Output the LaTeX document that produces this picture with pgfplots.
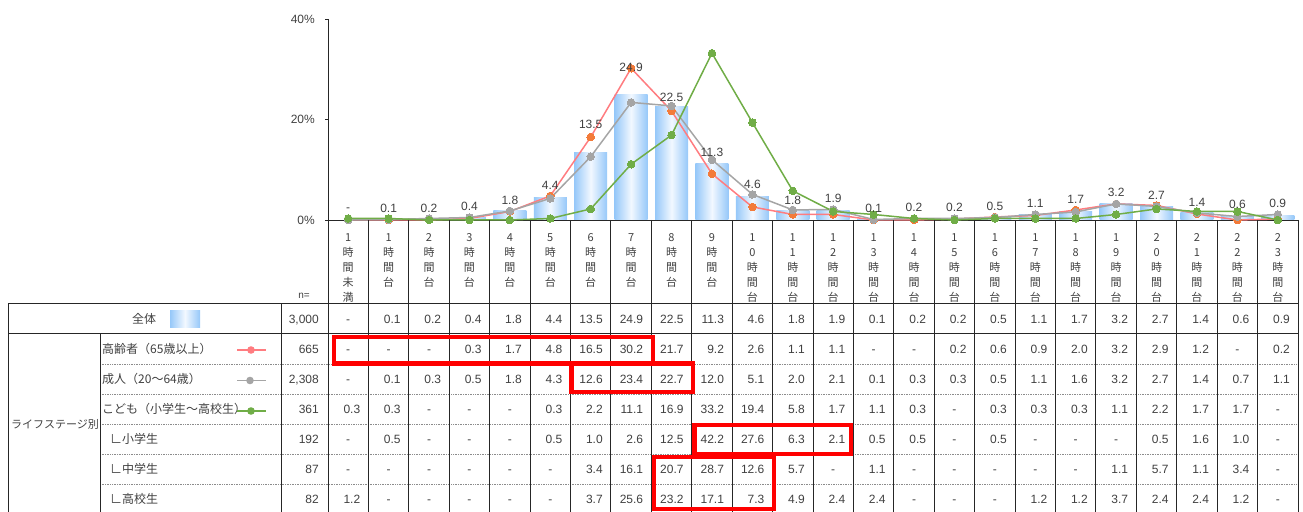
\documentclass[border=0pt]{standalone}
\usepackage{pgfplots}
\usepackage{pgfplotstable}
\pgfplotsset{compat=1.18}
\usepackage{fontspec}
\usepackage{ifthen}
\setmainfont{Liberation Sans}
\newfontfamily\jp{Noto Sans CJK JP}
\definecolor{txt}{HTML}{404040}
\definecolor{barE}{HTML}{96C8F9}
\definecolor{barM}{HTML}{F2F8FF}
\definecolor{oldL}{HTML}{FF7C80}
\definecolor{oldM}{HTML}{F37B3A}
\definecolor{adu}{HTML}{A5A5A5}
\definecolor{kid}{HTML}{70AD47}
\definecolor{gridc}{HTML}{262626}
\definecolor{dotc}{HTML}{8C8C8C}

\pgfplotstableread{
x all old adult kid laby lab
0  0    0    0    0.3  2.1  -
1  0.1  0    0.1  0.3  2.4  0.1
2  0.2  0    0.3  0    2.4  0.2
3  0.4  0.3  0.5  0    2.65 0.4
4  1.8  1.7  1.8  0    4.0  1.8
5  4.4  4.8  4.3  0.3  6.8  4.4
6  13.5 16.5 12.6 2.2  19.1 13.5
7  24.9 30.2 23.4 11.1 30.3 24.9
8  22.5 21.7 22.7 16.9 24.5 22.5
9  11.3 9.2  12.0 33.2 13.5 11.3
10 4.6  2.6  5.1  19.4 7.0  4.6
11 1.8  1.1  2.0  5.8  4.0  1.8
12 1.9  1.1  2.1  1.7  4.4  1.9
13 0.1  0    0.1  1.1  2.4  0.1
14 0.2  0    0.3  0.3  2.45 0.2
15 0.2  0.2  0.3  0    2.45 0.2
16 0.5  0.6  0.5  0.3  2.8  0.5
17 1.1  0.9  1.1  0.3  3.4  1.1
18 1.7  2.0  1.6  0.3  4.2  1.7
19 3.2  3.2  3.2  1.1  5.4  3.2
20 2.7  2.9  2.7  2.2  5.0  2.7
21 1.4  1.2  1.4  1.7  3.6  1.4
22 0.6  0    0.7  1.7  3.1  0.6
23 0.9  0.2  1.1  0    3.3  0.9
}\data

\newcommand\rowvals[2]{%
 \foreach \v [count=\i from 0] in {#2} {%
   \ifthenelse{\equal{\v}{-}}%
    {\node[anchor=base] at ({348.21+40.4167*\i},#1) {-};}%
    {\node[anchor=base east] at ({328+40.4167*(\i+1)-8},#1) {\v};}%
 }}

\begin{document}
\begin{tikzpicture}
\path[use as bounding box] (0,0) rectangle (1303bp,512bp);
\clip (0,0) rectangle (1303bp,512bp);
\begin{axis}[
  scale only axis, width=970bp, height=201bp,
  at={(328bp,292bp)}, anchor=south west,
  xmin=-0.5, xmax=23.5, ymin=0, ymax=40,
  axis x line*=bottom, axis y line*=left,
  axis line style={gridc, line width=0.9bp},
  ytick={0,20,40}, yticklabels={0\%,20\%,40\%},
  yticklabel style={font=\fontsize{12bp}{14bp}\selectfont, text=txt, inner sep=0pt, xshift=-10bp},
  tick align=outside, major tick length=3bp,
  ytick style={gridc, line width=0.9bp},
  xtick={0,...,23},
  xtick style={draw=none},
  xticklabels={{1\\時\\間\\未\\満},{1\\時\\間\\台},{2\\時\\間\\台},{3\\時\\間\\台},{4\\時\\間\\台},{5\\時\\間\\台},{6\\時\\間\\台},{7\\時\\間\\台},{8\\時\\間\\台},{9\\時\\間\\台},{1\\0\\時\\間\\台},{1\\1\\時\\間\\台},{1\\2\\時\\間\\台},{1\\3\\時\\間\\台},{1\\4\\時\\間\\台},{1\\5\\時\\間\\台},{1\\6\\時\\間\\台},{1\\7\\時\\間\\台},{1\\8\\時\\間\\台},{1\\9\\時\\間\\台},{2\\0\\時\\間\\台},{2\\1\\時\\間\\台},{2\\2\\時\\間\\台},{2\\3\\時\\間\\台}},
  x tick label style={align=center, font=\fontsize{11bp}{15bp}\selectfont\jp, text=txt, anchor=north, inner sep=0pt, yshift=-10bp},
  clip=false,
]
\pgfplotsinvokeforeach{1,...,23}{%
  \addplot[ybar, bar width=33bp, bar shift=0pt, draw=none, left color=barE, right color=barE, middle color=barM,
    x filter/.expression={x==#1 ? x : nan}] table[x=x,y=all] {\data};
}
\addplot[color=oldL, line width=1.5bp, mark=*, mark size=3.8bp, mark options={fill=oldM, draw=oldM, line width=0pt}] table[x=x,y=old] {\data};
\addplot[color=adu, line width=1.5bp, mark=*, mark size=3.8bp, mark options={fill=adu, draw=adu, line width=0pt}] table[x=x,y=adult] {\data};
\addplot[color=kid, line width=1.5bp, mark=*, mark size=3.8bp, mark options={fill=kid, draw=kid, line width=0pt}] table[x=x,y=kid] {\data};
\addplot[only marks, mark=none, nodes near coords, point meta=explicit symbolic,
  every node near coord/.append style={anchor=center, font=\fontsize{12bp}{14bp}\selectfont, text=txt, inner sep=0pt}]
  table[x=x,y=laby,meta=lab] {\data};
\end{axis}

\begin{scope}[x=1bp, y=-1bp, shift={(0bp,512bp)}, every node/.style={font=\fontsize{12bp}{14bp}\selectfont, text=txt, inner sep=0pt}]
% table lines
\draw[gridc, line width=1bp] (8,304) -- (1298,304);
\draw[gridc, line width=1bp] (8,334) -- (1298,334);
\foreach \yy in {364,394,424,454,484} \draw[dotc, densely dotted, line width=0.7bp] (100,\yy) -- (1298,\yy);
\draw[gridc, line width=1bp] (8,304) -- (8,520);
\draw[gridc, line width=1bp] (100,334) -- (100,520);
\draw[gridc, line width=1bp] (281,304) -- (281,520);
\foreach \k in {0,...,24} \draw[gridc, line width=1bp] ({328+40.4167*\k},220) -- ({328+40.4167*\k},520);
% n=
\node[anchor=base, font=\fontsize{10bp}{12bp}\selectfont] at (304,299) {n=};
% row headers
\node[anchor=base, font=\fontsize{12bp}{14bp}\selectfont\jp] at (144,324) {全体};
\shade[left color=barE, right color=barE, middle color=barM] (170,311) rectangle (200,328);
\node[anchor=base west, font=\fontsize{11bp}{13bp}\selectfont\jp] at (11,429) {ライフステージ別};
\node[anchor=base west, font=\fontsize{12bp}{14bp}\selectfont\jp] at (102,354) {高齢者（65歳以上）};
\node[anchor=base west, font=\fontsize{12bp}{14bp}\selectfont\jp] at (102,384) {成人（20～64歳）};
\node[anchor=base west, font=\fontsize{12bp}{14bp}\selectfont\jp] at (102,414) {こども（小学生～高校生）};
\node[anchor=base west, font=\fontsize{12bp}{14bp}\selectfont\jp] at (110,444) {∟小学生};
\node[anchor=base west, font=\fontsize{12bp}{14bp}\selectfont\jp] at (110,474) {∟中学生};
\node[anchor=base west, font=\fontsize{12bp}{14bp}\selectfont\jp] at (110,504) {∟高校生};
% legend samples
\draw[oldL, line width=1.5bp] (237,350) -- (266,350);
\fill[oldL] (251,350) circle[radius=3.8bp];
\draw[adu, line width=1.5bp] (237,380.5) -- (266,380.5);
\fill[adu] (250,380.5) circle[radius=3.8bp];
\draw[kid, line width=1.5bp] (237,411) -- (266,411);
\fill[kid] (251,411) circle[radius=3.8bp];
% n values
\node[anchor=base east] at (319,324) {3,000};
\node[anchor=base east] at (319,354) {665};
\node[anchor=base east] at (319,384) {2,308};
\node[anchor=base east] at (319,414) {361};
\node[anchor=base east] at (319,444) {192};
\node[anchor=base east] at (319,474) {87};
\node[anchor=base east] at (319,504) {82};
% values
\rowvals{324}{-,0.1,0.2,0.4,1.8,4.4,13.5,24.9,22.5,11.3,4.6,1.8,1.9,0.1,0.2,0.2,0.5,1.1,1.7,3.2,2.7,1.4,0.6,0.9}
\rowvals{354}{-,-,-,0.3,1.7,4.8,16.5,30.2,21.7,9.2,2.6,1.1,1.1,-,-,0.2,0.6,0.9,2.0,3.2,2.9,1.2,-,0.2}
\rowvals{384}{-,0.1,0.3,0.5,1.8,4.3,12.6,23.4,22.7,12.0,5.1,2.0,2.1,0.1,0.3,0.3,0.5,1.1,1.6,3.2,2.7,1.4,0.7,1.1}
\rowvals{414}{0.3,0.3,-,-,-,0.3,2.2,11.1,16.9,33.2,19.4,5.8,1.7,1.1,0.3,-,0.3,0.3,0.3,1.1,2.2,1.7,1.7,-}
\rowvals{444}{-,0.5,-,-,-,0.5,1.0,2.6,12.5,42.2,27.6,6.3,2.1,0.5,0.5,-,0.5,-,-,-,0.5,1.6,1.0,-}
\rowvals{474}{-,-,-,-,-,-,3.4,16.1,20.7,28.7,12.6,5.7,-,1.1,-,-,-,-,-,1.1,5.7,1.1,3.4,-}
\rowvals{504}{1.2,-,-,-,-,-,3.7,25.6,23.2,17.1,7.3,4.9,2.4,2.4,-,-,-,1.2,1.2,3.7,2.4,2.4,1.2,-}
% red highlight boxes
\draw[red, line width=4.5bp] (334,337) rectangle (653,363.3);
\draw[red, line width=4.5bp] (571.7,363.5) rectangle (693,392);
\draw[red, line width=4.5bp] (694.7,425) rectangle (851,454);
\draw[red, line width=4.5bp] (654,457) rectangle (774,509);
\end{scope}
\end{tikzpicture}
\end{document}
